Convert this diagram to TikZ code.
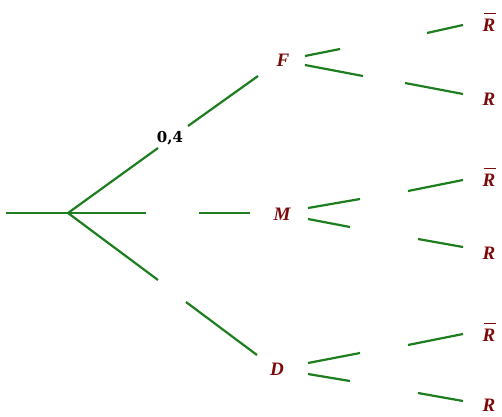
\documentclass[tikz,border=0pt]{standalone}
\usepackage{fontspec}
\setmainfont{Liberation Serif}
\newfontfamily\probfont{DejaVu Serif}
\definecolor{brgreen}{RGB}{30,125,30}
\definecolor{lblred}{RGB}{125,10,10}
\tikzset{
  br/.style={draw=brgreen, line width=2.2pt},
  ev/.style={text=lblred, font=\fontsize{19}{19}\selectfont\bfseries\itshape, inner sep=0pt},
  prob/.style={text=black, font=\fontsize{15}{15}\selectfont\probfont\bfseries, inner sep=0pt}
}
\newcommand{\Rbar}{\leavevmode\rlap{\hspace{0.08em}\raisebox{0.9em}{\rule{0.62em}{0.08em}}}R}
\begin{document}
\begin{tikzpicture}[x=1pt,y=-1pt]
\useasboundingbox (0,0) rectangle (502,416);
% nodes
\node[ev] (F) at (283,60) {F};
\node[ev] (M) at (282,214) {M};
\node[ev] (D) at (277,369) {D};
\node[ev] (FRb) at (489,22) {\Rbar};
\node[ev] (FR) at (489,99) {R};
\node[ev] (MRb) at (489,177) {\Rbar};
\node[ev] (MR) at (489,253) {R};
\node[ev] (DRb) at (489,332) {\Rbar};
\node[ev] (DR) at (489,405) {R};
\node[prob] (p) at (170,138) {0,4};
% coordinates
\coordinate (s) at (6,213);
\coordinate (o) at (68,213);
\coordinate (u1) at (158,148); \coordinate (u2) at (188,126); \coordinate (u3) at (258,76);
\coordinate (m1) at (146,213); \coordinate (m2) at (199,213); \coordinate (m3) at (250,213);
\coordinate (d1) at (158,280); \coordinate (d2) at (186,302); \coordinate (d3) at (257,355);
% first level
\draw[br] (s) -- (o);
\draw[br] (o) -- (u1); \draw[br] (u2) -- (u3);
\draw[br] (o) -- (m1); \draw[br] (m2) -- (m3);
\draw[br] (o) -- (d1); \draw[br] (d2) -- (d3);
% F branches
\coordinate (fa1) at (305,56); \coordinate (fa2) at (340,49);
\coordinate (fa3) at (427,33); \coordinate (fa4) at (463,25);
\coordinate (fb1) at (305,65); \coordinate (fb2) at (363,76);
\coordinate (fb3) at (405,83); \coordinate (fb4) at (463,94);
\draw[br] (fa1) -- (fa2); \draw[br] (fa3) -- (fa4);
\draw[br] (fb1) -- (fb2); \draw[br] (fb3) -- (fb4);
% M branches
\coordinate (ma1) at (308,208); \coordinate (ma2) at (360,199);
\coordinate (ma3) at (408,191); \coordinate (ma4) at (463,180);
\coordinate (mb1) at (308,219); \coordinate (mb2) at (350,227);
\coordinate (mb3) at (418,239); \coordinate (mb4) at (463,247);
\draw[br] (ma1) -- (ma2); \draw[br] (ma3) -- (ma4);
\draw[br] (mb1) -- (mb2); \draw[br] (mb3) -- (mb4);
% D branches
\coordinate (da1) at (308,363); \coordinate (da2) at (360,353);
\coordinate (da3) at (408,345); \coordinate (da4) at (463,334);
\coordinate (db1) at (308,374); \coordinate (db2) at (350,381);
\coordinate (db3) at (418,393); \coordinate (db4) at (463,401);
\draw[br] (da1) -- (da2); \draw[br] (da3) -- (da4);
\draw[br] (db1) -- (db2); \draw[br] (db3) -- (db4);
\end{tikzpicture}
\end{document}
